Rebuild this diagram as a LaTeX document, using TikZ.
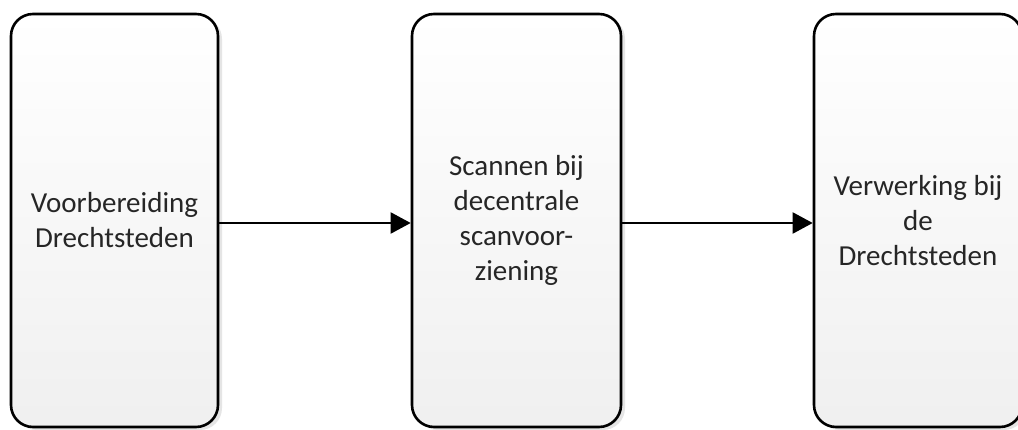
\documentclass[tikz,border=0pt]{standalone}
\usepackage{fontspec}
\setmainfont{Carlito}
\usetikzlibrary{arrows.meta,shadows}
\tikzset{
  procbox/.style={draw=black, line width=2.6pt, rounded corners=22pt,
    top color=white, bottom color=black!6,
    drop shadow={shadow xshift=4pt, shadow yshift=-3pt, fill=black!10, opacity=1},
    align=center, text=black!85, inner sep=0pt,
    font=\fontsize{29}{35}\selectfont},
  flowarrow/.style={line width=2pt, -{Triangle[length=20pt,width=21pt]}}
}
\begin{document}
\begin{tikzpicture}[x=1pt,y=1pt]
\useasboundingbox (0,0) rectangle (1018,429);
\fill[white] (0,0) rectangle (1018,429);
\node[procbox, minimum width=207pt, minimum height=413pt] (b1) at (114.5,208.5) {Voorbereiding\\Drechtsteden};
\node[procbox, minimum width=209pt, minimum height=413pt] (b2) at (516.5,208.5) {Scannen bij\\decentrale\\scanvoor-\\ziening};
\node[procbox, minimum width=208pt, minimum height=413pt] (b3) at (918,208.5) {Verwerking bij\\de\\Drechtsteden};
\draw[flowarrow] ([yshift=-2.5pt]b1.east) -- ([yshift=-2.5pt]b2.west);
\draw[flowarrow] ([yshift=-2.5pt]b2.east) -- ([yshift=-2.5pt]b3.west);
\end{tikzpicture}
\end{document}
